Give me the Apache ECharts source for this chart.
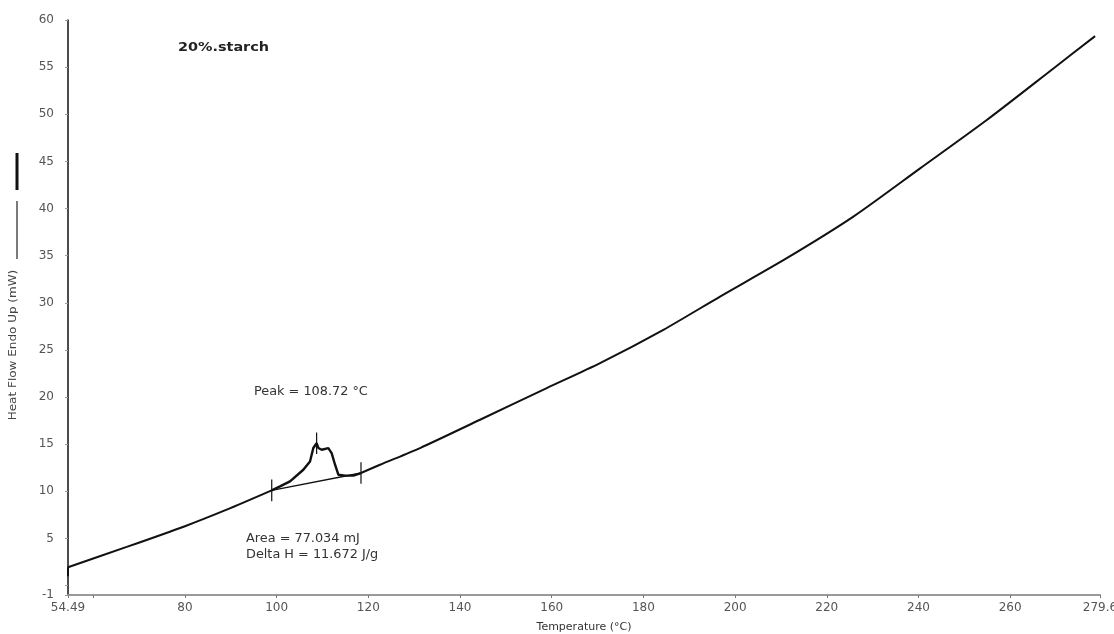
<!DOCTYPE html>
<html>
<head>
<meta charset="utf-8">
<script src="https://cdn.jsdelivr.net/npm/echarts@6/dist/echarts.min.js"></script>
<style>
  html, body { margin: 0; padding: 0; background: #fff; }
  #chart { width: 1114px; height: 634px; }
</style>
</head>
<body>
<div id="chart"></div>
<script>
// DSC heating scan of the 20% starch sample
const temperature = [54.49, 54.49, 67.3, 80, 89.1, 98.93, 100.74, 102.92, 105.82, 107.28, 108.0, 108.72,
  109.1, 109.83, 111.28, 112.0, 112.74, 113.46, 114.92, 116.73, 118.4, 122.55, 131.28, 144.37,
  158.92, 170.55, 184.36, 196.72, 211.27, 225.8, 240.36, 254.9, 269.44, 278.53];
const heatFlow = [1.0, 1.95, 4.1, 6.3, 8.05, 10.1, 10.52, 11.05, 12.29, 13.17, 14.59, 15.1,
  14.6, 14.41, 14.59, 14.06, 12.82, 11.76, 11.66, 11.66, 11.94, 12.82, 14.59, 17.59,
  20.95, 23.6, 27.13, 30.66, 34.73, 39.14, 44.26, 49.39, 54.86, 58.29];

// integration limits and peak of the transition
const onsetPoint = [98.93, 10.1];
const endPoint = [118.4, 11.94];
const peakPoint = [108.72, 15.1];

// axis ticks and labels
const xLabelValues = [54.49, 80, 100, 120, 140, 160, 180, 200, 220, 240, 260, 279.6];
const xTickValues = [54.49, 60, 80, 100, 120, 140, 160, 180, 200, 220, 240, 260, 279.6];
const yLabelValues = [-1, 5, 10, 15, 20, 25, 30, 35, 40, 45, 50, 55, 60];
const yTickValues = [-1, 0, 5, 10, 15, 20, 25, 30, 35, 40, 45, 50, 55, 60];

const curve = temperature.map((t, i) => [t, heatFlow[i]]);
// split the trace: smooth baseline stretches either side, the transition drawn point to point
const iOnset = temperature.indexOf(onsetPoint[0]);
const iEnd = temperature.indexOf(endPoint[0]);
const startStep = curve.slice(0, 2);
const before = curve.slice(1, iOnset + 1);
const transition = curve.slice(iOnset, iEnd + 1);
const after = curve.slice(iEnd);

const markerHalf = 1.15;
const vMarker = (p) => [[p[0], p[1] - markerHalf], [p[0], p[1] + markerHalf]];

const FONT = '"DejaVu Sans", Verdana, sans-serif';
const lineSeries = (data, width, smooth) => ({
  type: 'line', data: data, symbol: 'none', silent: true, animation: false,
  smooth: smooth || false,
  lineStyle: { color: '#111', width: width }, z: 3
});

const chart = echarts.init(document.getElementById('chart'), null, { renderer: 'canvas' });
chart.setOption({
  backgroundColor: '#fff',
  animation: false,
  grid: { left: 68, right: 14, top: 20, bottom: 39, containLabel: false, outerBoundsMode: 'none' },
  xAxis: {
    type: 'value', min: 54.49, max: 279.6,
    name: 'Temperature (°C)', nameLocation: 'middle', nameGap: 27,
    nameTextStyle: { color: '#333', fontSize: 11, fontFamily: FONT },
    axisLine: { show: true, onZero: false, lineStyle: { color: '#9a9a9a', width: 2 } },
    axisTick: { show: true, customValues: xTickValues, length: 3, inside: false, lineStyle: { color: '#777' } },
    axisLabel: { customValues: xLabelValues, color: '#555', fontSize: 12, fontFamily: FONT, margin: 7 },
    splitLine: { show: false }
  },
  yAxis: {
    type: 'value', min: -1, max: 60,
    axisLine: { show: true, onZero: false, lineStyle: { color: '#111', width: 1.5 } },
    axisTick: { show: true, customValues: yTickValues, length: 3, lineStyle: { color: '#999' } },
    axisLabel: { customValues: yLabelValues, color: '#555', fontSize: 12, fontFamily: FONT, margin: 14 },
    splitLine: { show: false }
  },
  series: [
    lineSeries(startStep, 2),
    lineSeries(before, 2, 0.25),
    lineSeries(transition, 2.4),
    lineSeries(after, 2, 0.25),
    lineSeries([onsetPoint, endPoint], 1.5),
    lineSeries(vMarker(onsetPoint), 1.2),
    lineSeries(vMarker(endPoint), 1.2),
    lineSeries(vMarker(peakPoint), 1.2)
  ],
  graphic: [
    { type: 'text', left: 178, top: 42, scaleX: 1.2,
      style: { text: '20%.starch', font: 'bold 12px ' + FONT, fill: '#222' } },
    { type: 'text', left: 254, top: 386, scaleX: 1.07,
      style: { text: 'Peak = 108.72 °C', font: '12px ' + FONT, fill: '#333' } },
    { type: 'text', left: 246, top: 533, scaleX: 1.07,
      style: { text: 'Area = 77.034 mJ', font: '12px ' + FONT, fill: '#333' } },
    { type: 'text', left: 246, top: 549, scaleX: 1.07,
      style: { text: 'Delta H = 11.672 J/g', font: '12px ' + FONT, fill: '#333' } },
    { type: 'text', x: 13, y: 345, rotation: Math.PI / 2, scaleX: 1.2,
      style: { text: 'Heat Flow Endo Up (mW)', font: '10px ' + FONT, fill: '#444', align: 'center', verticalAlign: 'middle' } },
    // legend strokes beside the axis title
    { type: 'line', shape: { x1: 17, y1: 153, x2: 17, y2: 190 }, style: { stroke: '#111', lineWidth: 3 } },
    { type: 'line', shape: { x1: 17, y1: 201, x2: 17, y2: 259 }, style: { stroke: '#222', lineWidth: 1.2 } }
  ]
});
</script>
</body>
</html>
